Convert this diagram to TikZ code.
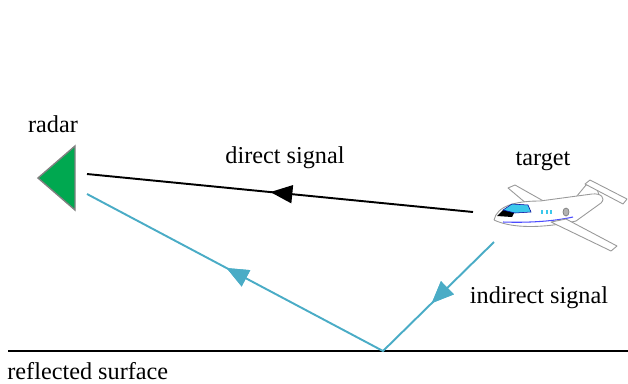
\documentclass[tikz,border=0pt]{standalone}
\usepackage{fontspec}
\setmainfont{Liberation Serif}
\newfontfamily\labelfont{Liberation Serif}
\usetikzlibrary{arrows.meta,decorations.markings}

\definecolor{radargreen}{RGB}{0,168,80}
\definecolor{echoblue}{RGB}{74,172,198}
\definecolor{canopy}{RGB}{60,200,235}

\tikzset{
  lbl/.style={font=\labelfont\fontsize{13.8}{16}\selectfont, inner sep=0pt},
  sig/.style={line width=1.1pt},
  midarrow/.style={postaction={decorate}, decoration={markings,
      mark=at position #1 with {\arrow{Triangle[length=0.44cm,width=0.36cm]}}}},
  plane/.style={fill=white, draw=gray!80, line width=0.5pt, line join=round},
}

\begin{document}
\begin{tikzpicture}[x=0.02cm,y=-0.02cm]
  \useasboundingbox (0,0) rectangle (628,383);

  % Radar
  \filldraw[fill=radargreen, draw=gray, line width=0.8pt]
    (38,178) -- (75,146) -- (75,210) -- cycle;
  \node[lbl] (radar) at (53,124) {radar};
  \coordinate (rxtop) at (87,174);
  \coordinate (rxlow) at (87,194);

  % Ground
  \coordinate (gl) at (8,351);
  \coordinate (gr) at (628,351);
  \coordinate (bounce) at (383,351);
  \draw[line width=1.1pt] (gl) -- (gr);
  \node[lbl, anchor=west] (surf) at (7,371) {reflected surface};

  % Target aircraft
  \coordinate (txtop) at (473,212);
  \coordinate (txlow) at (494,242);
  \node[lbl] (target) at (543,161) {target};
  % far wing
  \draw[plane] (527,204) -- (508,188) -- (515,185) -- (547,203) -- cycle;
  % tail fin and stabilizer
  \draw[plane] (572,202) -- (586,185) -- (595,183) -- (600,198) -- cycle;
  \draw[plane] (585,184) -- (590,180) -- (627,199) -- (623,204) -- cycle;
  % fuselage
  \draw[plane] (494,220) .. controls (497,206) and (515,201) .. (540,201)
    -- (592,194) .. controls (601,193) and (606,198) .. (601,203)
    -- (576,221) .. controls (545,228) and (513,229) .. (494,220);
  \draw[blue!70, line width=0.6pt] (503,222) .. controls (530,223) and (555,221) .. (573,217);
  % cockpit
  \fill[black] (497,216) -- (503,210) -- (515,211) -- (512,217) -- cycle;
  \filldraw[fill=canopy, draw=blue!60!black, line width=0.3pt]
    (503,210) -- (512,204) -- (528,205) -- (531,212) -- (515,213) -- cycle;
  \foreach \wx in {541,546,550} \fill[canopy] (\wx,210) rectangle ++(2,4);
  % engine
  \filldraw[fill=gray!60, draw=gray] (566,212) ellipse (3 and 4);
  % near wing
  \draw[plane] (551,222) -- (566,219) -- (617,246) -- (611,251) -- cycle;

  % Direct path
  \draw[sig, midarrow=0.525] (txtop) -- (rxtop);
  \node[lbl] (direct) at (285,158) {direct signal};

  % Indirect path
  \draw[sig, echoblue, line join=miter, midarrow=0.178, midarrow=0.678]
    (txlow) -- (bounce) -- (rxlow);
  \node[lbl] (indirect) at (539,298) {indirect signal};
\end{tikzpicture}
\end{document}
